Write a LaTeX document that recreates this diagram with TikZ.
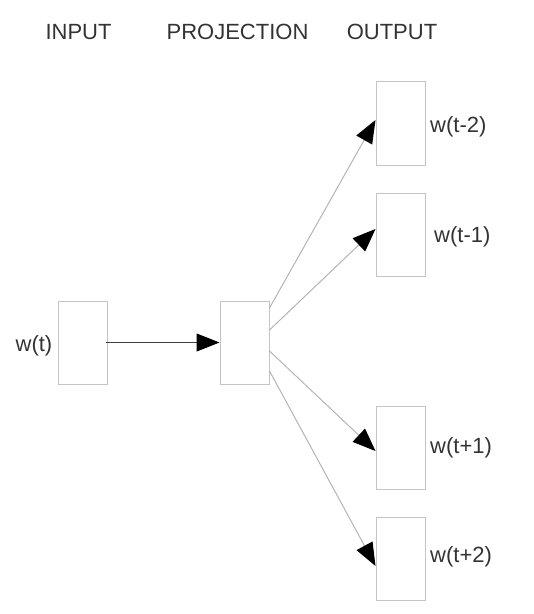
\documentclass[tikz,border=0pt]{standalone}
\usepackage{fontspec}
\setmainfont{Liberation Sans}
\usetikzlibrary{arrows.meta}
\definecolor{txt}{HTML}{333333}
\definecolor{boxc}{HTML}{C4C4C4}
\definecolor{linec}{HTML}{B4B4B4}
\definecolor{inlc}{HTML}{404040}
\begin{document}
\begin{tikzpicture}[x=1bp,y=-1bp,
  unitbox/.style={draw=boxc,line width=1bp,minimum width=49bp,minimum height=83bp,inner sep=0pt},
  lbl/.style={text=txt,inner sep=0pt,font=\fontsize{22bp}{26bp}\selectfont},
  hdr/.style={lbl,anchor=base},
  tip/.style={-{Triangle[length=23bp,width=18bp,color=black]}},
  outarrow/.style={tip,draw=linec,line width=1bp},
  inarrow/.style={tip,draw=inlc,line width=1bp}]
\useasboundingbox (0,0) rectangle (534,614);
% headers
\node[hdr] (hin) at (78.5,40) {INPUT};
\node[hdr] (hproj) at (237.5,40) {PROJECTION};
\node[hdr] (hout) at (392,40) {OUTPUT};
% boxes
\node[unitbox] (in) at (82.5,342.5) {};
\node[unitbox] (proj) at (244.5,342.5) {};
\node[unitbox] (o1) at (400.5,123.5) {};
\node[unitbox] (o2) at (400.5,235) {};
\node[unitbox] (o3) at (400.5,447.5) {};
\node[unitbox] (o4) at (400.5,559) {};
% labels
\node[lbl,anchor=east] (lin) at (52.5,346) {w(t)};
\node[lbl,anchor=west] (l1) at (430,127) {w(t-2)};
\node[lbl,anchor=west] (l2) at (434,237) {w(t-1)};
\node[lbl,anchor=west] (l3) at (430,448) {w(t+1)};
\node[lbl,anchor=west] (l4) at (430,557) {w(t+2)};
% connectors
\draw[inarrow] ([xshift=-2bp]in.east) -- (proj.west);
\draw[outarrow] ([yshift=34.5bp]proj.east) -- ([yshift=3.5bp]o1.west);
\draw[outarrow] ([yshift=12.5bp]proj.east) -- ([yshift=6bp]o2.west);
\draw[outarrow] ([yshift=-8.5bp]proj.east) -- ([yshift=-3.5bp]o3.west);
\draw[outarrow] ([yshift=-28.5bp]proj.east) -- ([yshift=-7bp]o4.west);
\end{tikzpicture}
\end{document}
